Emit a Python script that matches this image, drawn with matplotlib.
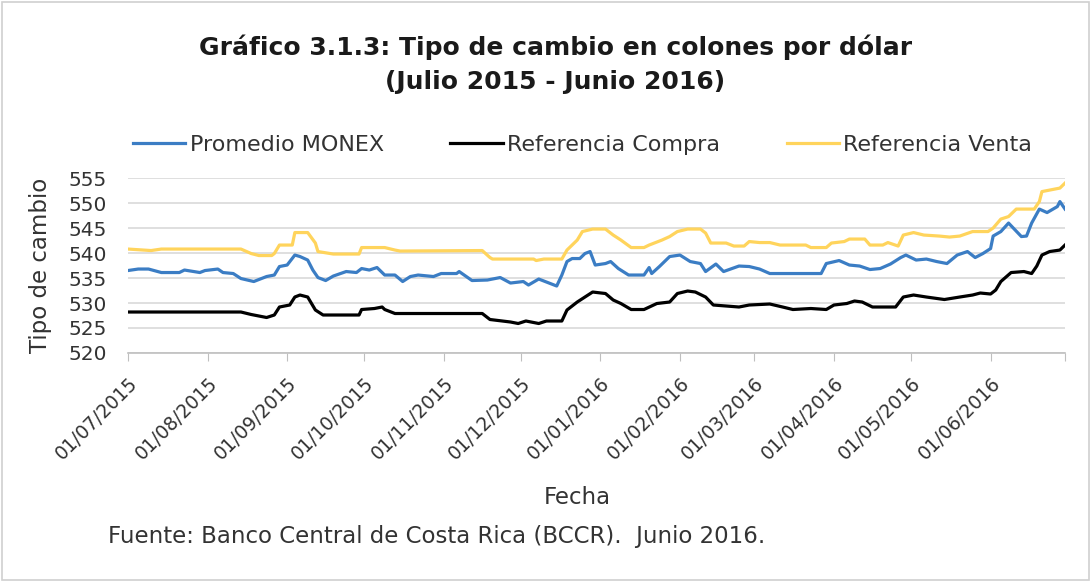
"""
Gráfico 3.1.3: tipo de cambio en colones por dólar, julio 2015 - junio 2016.
Valores leídos del gráfico original (BCCR).
"""
import numpy as np
import pandas as pd
import matplotlib
matplotlib.use("Agg")
import matplotlib.pyplot as plt
from matplotlib.patches import Rectangle

# Fecha de inicio: los días se cuentan desde aquí
inicio = pd.Timestamp("2015-07-01")

# Promedio MONEX
dias_monex = [0, 4, 8, 13, 20, 22, 28, 30, 35, 37, 41, 44, 49, 54, 57, 59, 62, 65,
              67, 70, 72, 74, 77, 80, 85, 89, 91, 94, 97, 100, 104, 107, 110, 113,
              119, 122, 128, 129, 134, 140, 145, 149, 154, 156, 160, 164, 167, 169,
              171, 173, 176, 178, 180, 182, 186, 188, 191, 195, 201, 203, 204, 207,
              211, 215, 219, 223, 225, 229, 232, 238, 242, 246, 250, 270, 272, 277,
              281, 285, 289, 293, 297, 301, 303, 307, 311, 315, 319, 323, 327, 330,
              333, 336, 337, 340, 343, 348, 350, 352, 355, 358, 362, 363, 365]
monex = [536.5, 536.8, 536.8, 536.1, 536.1, 536.6, 536.1, 536.5, 536.8, 536.1,
         535.9, 534.9, 534.3, 535.3, 535.6, 537.3, 537.6, 539.6, 539.3, 538.6,
         536.6, 535.1, 534.5, 535.4, 536.3, 536.1, 536.9, 536.6, 537.1, 535.6,
         535.6, 534.3, 535.3, 535.6, 535.3, 535.9, 535.9, 536.3, 534.5, 534.6,
         535.1, 534.0, 534.3, 533.6, 534.8, 534.0, 533.4, 535.6, 538.3, 538.9,
         538.9, 539.9, 540.3, 537.6, 537.9, 538.3, 536.9, 535.6, 535.6, 537.1,
         535.9, 537.3, 539.3, 539.6, 538.3, 537.9, 536.3, 537.8, 536.3, 537.4,
         537.3, 536.8, 535.9, 535.9, 537.9, 538.5, 537.6, 537.4, 536.7, 536.9,
         537.8, 539.1, 539.6, 538.6, 538.8, 538.3, 537.9, 539.6, 540.3, 539.1,
         539.9, 540.9, 543.4, 544.3, 546.0, 543.3, 543.4, 546.0, 548.8, 548.1,
         549.3, 550.3, 548.8]

# Referencia Compra
dias_compra = [0, 44, 48, 54, 57, 59, 63, 65, 67, 70, 73, 76, 90, 91, 96, 99, 100,
               104, 138, 141, 149, 152, 155, 160, 163, 169, 171, 175, 178, 181, 186,
               189, 192, 196, 201, 206, 211, 214, 218, 221, 225, 228, 233, 238, 242,
               250, 255, 259, 266, 272, 275, 280, 283, 286, 290, 299, 302, 306, 311,
               318, 324, 329, 332, 336, 338, 340, 344, 349, 352, 354, 356, 359, 363, 365]
compra = [528.2, 528.2, 527.7, 527.1, 527.6, 529.2, 529.6, 531.2, 531.6, 531.2,
          528.6, 527.6, 527.6, 528.7, 528.9, 529.2, 528.7, 527.9, 527.9, 526.7,
          526.2, 525.9, 526.4, 525.9, 526.4, 526.4, 528.6, 530.2, 531.2, 532.2,
          531.9, 530.6, 529.9, 528.7, 528.7, 529.9, 530.2, 531.9, 532.4, 532.2,
          531.2, 529.6, 529.4, 529.2, 529.6, 529.8, 529.2, 528.7, 528.9, 528.7,
          529.6, 529.9, 530.4, 530.2, 529.2, 529.2, 531.2, 531.6, 531.2, 530.7,
          531.2, 531.6, 532.0, 531.8, 532.6, 534.3, 536.1, 536.3, 535.9, 537.4,
          539.6, 540.3, 540.6, 541.6]

# Referencia Venta
dias_venta = [0, 9, 13, 44, 48, 51, 56, 57, 59, 64, 65, 70, 73, 74, 80, 90, 91, 100,
              104, 106, 138, 141, 142, 158, 159, 162, 169, 171, 173, 175, 177, 181,
              186, 189, 192, 196, 201, 203, 208, 211, 214, 218, 223, 225, 227, 233,
              236, 240, 242, 246, 250, 254, 264, 266, 272, 274, 279, 281, 287, 289,
              294, 296, 300, 302, 306, 310, 316, 320, 324, 329, 335, 337, 340, 343,
              346, 353, 355, 356, 361, 363, 365]
venta = [540.8, 540.5, 540.8, 540.8, 539.9, 539.5, 539.5, 539.9, 541.6, 541.6,
         544.1, 544.1, 542.0, 540.3, 539.8, 539.8, 541.1, 541.1, 540.6, 540.4,
         540.5, 539.1, 538.8, 538.8, 538.5, 538.8, 538.8, 540.6, 541.6, 542.6,
         544.3, 544.8, 544.8, 543.6, 542.6, 541.1, 541.1, 541.6, 542.6, 543.3,
         544.3, 544.8, 544.8, 544.0, 542.0, 542.0, 541.4, 541.4, 542.3, 542.1,
         542.1, 541.6, 541.6, 541.1, 541.1, 542.0, 542.3, 542.8, 542.8, 541.6,
         541.6, 542.1, 541.4, 543.6, 544.1, 543.6, 543.4, 543.2, 543.4, 544.3,
         544.3, 545.0, 546.8, 547.3, 548.8, 548.8, 550.3, 552.3, 552.8, 553.0, 554.0]

# Etiquetas del eje x (inicio de cada mes)
meses = pd.date_range("2015-07-01", "2016-06-01", freq="MS")
etiquetas = [m.strftime("%d/%m/%Y") for m in meses]

def fechas(dias):
    return inicio + pd.to_timedelta(dias, unit="D")

plt.rcParams["font.family"] = ["DejaVu Sans"]
gris = "#333333"

fig = plt.figure(figsize=(10.91, 5.82), dpi=100)
fig.patches.append(Rectangle((0.002, 0.004), 0.996, 0.992, transform=fig.transFigure,
                             fill=False, edgecolor="#d0d0d0", linewidth=1.2))
ax = fig.add_axes([0.1173, 0.3935, 0.8589, 0.3005])

ax.plot(fechas(dias_monex), monex, color="#3b7dc4", lw=2.3, label="Promedio MONEX")
ax.plot(fechas(dias_compra), compra, color="black", lw=2.3, label="Referencia Compra")
ax.plot(fechas(dias_venta), venta, color="#ffd45c", lw=2.3, label="Referencia Venta")

fin = inicio + pd.Timedelta(days=365)
ax.set_xlim(inicio, fin)
ax.set_ylim(520, 555)
ax.set_yticks(np.arange(520, 556, 5))
ax.set_xticks(list(meses) + [fin])
ax.set_xticklabels(etiquetas + [""], rotation=45, ha="right", rotation_mode="anchor",
                   fontsize=13.5, color=gris)
ax.tick_params(axis="x", length=6, color="#bfbfbf", pad=9)
ax.tick_params(axis="y", length=0, labelsize=14.5, colors=gris, pad=15)

ax.grid(axis="y", color="#d9d9d9", lw=1.2)
ax.set_axisbelow(True)
for s in ["top", "right", "left"]:
    ax.spines[s].set_visible(False)
ax.spines["bottom"].set_color("#bfbfbf")
ax.spines["bottom"].set_linewidth(1.2)

ax.set_ylabel("Tipo de cambio", fontsize=16.5, color=gris, labelpad=12)
fig.text(0.529, 1 - 497 / 582, "Fecha", fontsize=16.5, color=gris,
         ha="center", va="center")

fig.text(0.509, 1 - 47 / 582, "Gráfico 3.1.3: Tipo de cambio en colones por dólar",
         fontsize=18, fontweight="bold", ha="center", va="center", color="#1a1a1a")
fig.text(0.509, 1 - 82 / 582, "(Julio 2015 - Junio 2016)",
         fontsize=18, fontweight="bold", ha="center", va="center", color="#1a1a1a")

fig.legend(loc="center", bbox_to_anchor=(0.534, 1 - 145 / 582), ncol=3, frameon=False,
           fontsize=16, handlelength=2.35, handletextpad=0.2, columnspacing=3.0,
           labelcolor=gris)

fig.text(0.099, 1 - 537 / 582, "Fuente: Banco Central de Costa Rica (BCCR).  Junio 2016.",
         fontsize=16.5, color=gris, ha="left", va="center")

fig.savefig("out.png", dpi=100)
